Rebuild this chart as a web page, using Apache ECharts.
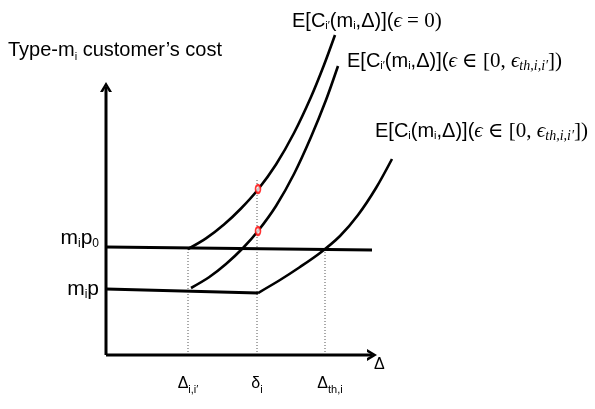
<!DOCTYPE html>
<html>
<head>
<meta charset="utf-8">
<script src="https://cdn.jsdelivr.net/npm/echarts@6/dist/echarts.min.js"></script>
<style>
  html, body { margin: 0; padding: 0; background: #fff; }
  #chart { width: 595px; height: 409px; }
</style>
</head>
<body>
<div id="chart"></div>
<script>
// x: delay axis (arbitrary units), y: cost (arbitrary units)
var xTicks = [82, 151, 219];
var xTickLabels = ['{a|Δ}{b|i,i′}', '{a|δ}{b|i}', '{e|Δ}{b|th,i}'];
var yTicks = [108, 66];
var yTickLabels = ['{a|m}{b|i}{a|p}{b|0}', '{c|m}{d|i}{c|p}'];

var xAxisEnd = 266;
var yAxisEnd = 268;
var p0Line = [[0, 108], [266, 105]];
var pLine = [[0, 66], [152, 62]];
var curveEps0 = [[82, 106], [100, 116.6], [118, 130.5], [135, 146.5], [152, 165.5], [170, 190.5], [188, 222], [205, 258], [218, 290], [229, 320]];
var curveEpsTh = [[85, 67], [103, 77.7], [120, 91], [137, 107], [152, 124], [170, 149], [188, 181], [205, 218], [220, 255], [232, 289]];
var curveOwn = [[152, 62], [174, 75], [194, 88], [214, 102], [234, 119], [252, 140], [270, 167], [286, 196]];
var redPoints = [[152, 166], [152, 124]];
var guideLines = [
  [[82, 0], [82, 106]],
  [[151, 0], [151, 177]],
  [[219, 0], [219, 105]]
];

var curveLabels = [
  '{t|E[C}{ts|i′}{t|(m}{ts|i}{t|,Δ)](}{mi|ϵ}{m| = 0)}',
  '{t|E[C}{ts|i′}{t|(m}{ts|i}{t|,Δ)](}{mi|ϵ}{m| ∈ [0, }{mi|ϵ}{ms|th,i,i′}{m|])}',
  '{t|E[C}{ts|i}{t|(m}{ts|i}{t|,Δ)](}{mi|ϵ}{m| ∈ [0, }{mi|ϵ}{ms|th,i,i′}{m|])}'
];

(function () {
  var sans = "'Liberation Sans Narrow', 'Arial Narrow', 'Liberation Sans', sans-serif";
  var serif = "'Liberation Serif', 'DejaVu Serif', serif";
  var chevron = 'path://M10,0 L20,13 L15,13 L10,6 L5,13 L0,13 Z';

  var labelRich = {
    t: { fontFamily: sans, fontSize: 20, color: '#000' },
    ts: { fontFamily: sans, fontSize: 11, color: '#000', padding: [10, 0, 0, 0] },
    m: { fontFamily: serif, fontSize: 21, color: '#000' },
    mi: { fontFamily: serif, fontStyle: 'italic', fontSize: 21, color: '#000' },
    ms: { fontFamily: serif, fontStyle: 'italic', fontSize: 14, color: '#000', padding: [10, 0, 0, 0] }
  };

  function fnCurve(data, label, offset) {
    return {
      type: 'line',
      data: data,
      smooth: 0.3,
      clip: false,
      symbol: 'none',
      lineStyle: { color: '#000', width: 2.6 },
      endLabel: {
        show: true,
        distance: 0,
        offset: offset,
        formatter: function () { return label; },
        rich: labelRich
      }
    };
  }

  function fnStraight(data) {
    return {
      type: 'line',
      data: data,
      symbol: 'none',
      clip: false,
      lineStyle: { color: '#000', width: 3 }
    };
  }

  function fnAxisLine(end, rotate, label) {
    return {
      type: 'line',
      clip: false,
      symbol: chevron,
      symbolSize: [12, 10],
      symbolRotate: rotate,
      showSymbol: true,
      lineStyle: { color: '#000', width: 3 },
      itemStyle: { color: '#000' },
      z: 4,
      data: [
        { value: [0, 0], symbol: 'none' },
        { value: end, label: label }
      ]
    };
  }

  var series = [];
  guideLines.forEach(function (d) {
    series.push({
      type: 'line',
      data: d,
      symbol: 'none',
      lineStyle: { color: '#555', width: 1, type: [1, 2] }
    });
  });
  series.push(fnAxisLine([xAxisEnd, 0], -90, {
    show: true,
    position: 'right',
    distance: 0,
    offset: [-3, 10],
    formatter: 'Δ',
    fontFamily: sans,
    fontSize: 16,
    color: '#000'
  }));
  series.push(fnAxisLine([0, yAxisEnd], 0, { show: false }));
  series.push(fnStraight(p0Line));
  series.push(fnStraight(pLine));
  series.push(fnCurve(curveEps0, curveLabels[0], [-43, -14]));
  series.push(fnCurve(curveEpsTh, curveLabels[1], [9, -5]));
  series.push(fnCurve(curveOwn, curveLabels[2], [-17, -28]));
  series.push({
    type: 'scatter',
    data: redPoints,
    symbol: 'emptyCircle',
    symbolSize: [5, 8],
    itemStyle: { color: '#f00', borderColor: '#f00', borderWidth: 2 },
    z: 6
  });

  var chart = echarts.init(document.getElementById('chart'));
  chart.setOption({
    animation: false,
    grid: { left: 106, top: 82, width: 300, height: 273 },
    xAxis: {
      type: 'value',
      min: 0,
      max: 300,
      splitLine: { show: false },
      axisTick: { show: false },
      axisLine: { show: false },
      axisLabel: {
        customValues: xTicks,
        margin: 17,
        formatter: function (v) { return xTickLabels[xTicks.indexOf(v)] || ''; },
        rich: {
          a: { fontFamily: sans, fontSize: 16, color: '#000' },
          e: { fontFamily: sans, fontSize: 16, color: '#000', padding: [0, 0, 0, 10] },
          b: { fontFamily: sans, fontSize: 11, color: '#000', padding: [12, 0, 0, 0] }
        }
      }
    },
    yAxis: {
      type: 'value',
      min: 0,
      max: 273,
      name: '{a|Type-m}{b|i}{a| customer’s cost}',
      nameLocation: 'end',
      nameGap: 20,
      nameTextStyle: {
        padding: [0, 0, 0, 18],
        rich: {
          a: { fontFamily: sans, fontSize: 20, color: '#000' },
          b: { fontFamily: sans, fontSize: 11, color: '#000', padding: [12, 0, 0, 0] }
        }
      },
      splitLine: { show: false },
      axisTick: { show: false },
      axisLine: { show: false },
      axisLabel: {
        customValues: yTicks,
        margin: 7,
        formatter: function (v) { return yTickLabels[yTicks.indexOf(v)] || ''; },
        rich: {
          a: { fontFamily: sans, fontSize: 21, color: '#000', padding: [0, 0, 18, 0] },
          b: { fontFamily: sans, fontSize: 12, color: '#000', padding: [0, 0, 6, 0] },
          c: { fontFamily: sans, fontSize: 21, color: '#000' },
          d: { fontFamily: sans, fontSize: 12, color: '#000', padding: [12, 0, 0, 0] }
        }
      }
    },
    series: series
  });
})();
</script>
</body>
</html>
